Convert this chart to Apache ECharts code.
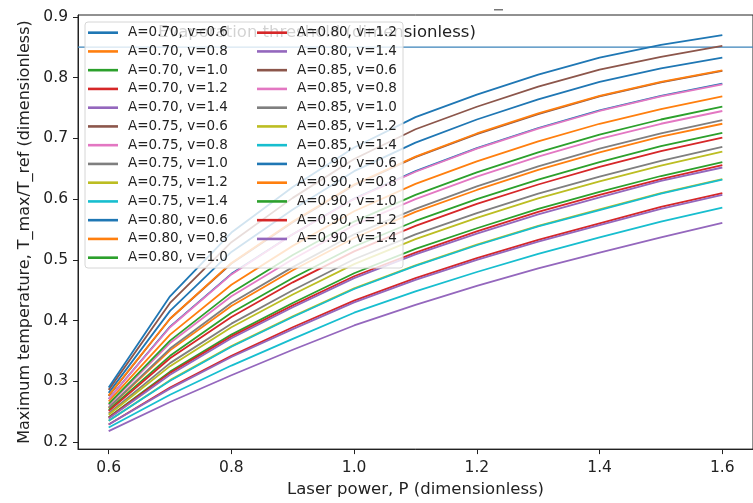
<!DOCTYPE html>
<html><head><meta charset="utf-8">
<script src="https://cdn.jsdelivr.net/npm/echarts@6/dist/echarts.min.js"></script>
<style>html,body{margin:0;padding:0;background:#fff}#c{width:753px;height:503px}</style>
</head><body><div id="c"></div>
<script>
// Laser power sample points (dimensionless)
const P = [0.6, 0.7, 0.8, 0.9, 1.0, 1.1, 1.2, 1.3, 1.4, 1.5, 1.6];
const absorptivities = ['0.70', '0.75', '0.80', '0.85', '0.90'];
const speeds = ['0.6', '0.8', '1.0', '1.2', '1.4'];
// T_max/T_ref per absorptivity, one row per scan speed v = 0.6 ... 1.4
const T_A070 = [
  [0.271, 0.390, 0.477, 0.542, 0.601, 0.646, 0.684, 0.717, 0.746, 0.770, 0.790],
  [0.256, 0.351, 0.424, 0.483, 0.536, 0.579, 0.615, 0.648, 0.677, 0.703, 0.724],
  [0.241, 0.316, 0.377, 0.429, 0.478, 0.518, 0.552, 0.584, 0.612, 0.638, 0.661],
  [0.229, 0.290, 0.342, 0.389, 0.433, 0.470, 0.503, 0.533, 0.560, 0.587, 0.610],
  [0.218, 0.266, 0.310, 0.352, 0.392, 0.426, 0.457, 0.486, 0.512, 0.537, 0.561]
];
const T_A075 = [
  [0.276, 0.403, 0.494, 0.562, 0.623, 0.669, 0.707, 0.740, 0.769, 0.792, 0.811],
  [0.261, 0.363, 0.440, 0.501, 0.557, 0.600, 0.637, 0.670, 0.699, 0.724, 0.745],
  [0.247, 0.330, 0.395, 0.450, 0.501, 0.542, 0.577, 0.609, 0.637, 0.663, 0.686],
  [0.235, 0.302, 0.358, 0.407, 0.453, 0.491, 0.525, 0.556, 0.583, 0.610, 0.633],
  [0.224, 0.278, 0.326, 0.370, 0.413, 0.448, 0.480, 0.510, 0.537, 0.563, 0.586]
];
const T_A080 = [
  [0.281, 0.416, 0.513, 0.583, 0.646, 0.693, 0.731, 0.764, 0.793, 0.815, 0.833],
  [0.267, 0.377, 0.459, 0.523, 0.580, 0.625, 0.662, 0.695, 0.724, 0.748, 0.769],
  [0.253, 0.342, 0.413, 0.470, 0.522, 0.564, 0.600, 0.632, 0.661, 0.687, 0.709],
  [0.240, 0.314, 0.374, 0.425, 0.473, 0.512, 0.547, 0.579, 0.607, 0.633, 0.656],
  [0.229, 0.288, 0.340, 0.386, 0.430, 0.467, 0.500, 0.530, 0.557, 0.584, 0.607]
];
const T_A085 = [
  [0.286, 0.429, 0.529, 0.602, 0.666, 0.715, 0.752, 0.785, 0.813, 0.834, 0.852],
  [0.271, 0.389, 0.476, 0.542, 0.600, 0.645, 0.683, 0.716, 0.745, 0.769, 0.789],
  [0.257, 0.354, 0.429, 0.488, 0.542, 0.584, 0.621, 0.654, 0.683, 0.708, 0.730],
  [0.245, 0.325, 0.389, 0.443, 0.493, 0.534, 0.569, 0.601, 0.629, 0.655, 0.678],
  [0.235, 0.301, 0.357, 0.406, 0.452, 0.490, 0.524, 0.555, 0.582, 0.609, 0.632]
];
const T_A090 = [
  [0.290, 0.440, 0.545, 0.620, 0.685, 0.735, 0.772, 0.805, 0.833, 0.854, 0.870],
  [0.277, 0.403, 0.495, 0.563, 0.624, 0.670, 0.708, 0.741, 0.770, 0.793, 0.812],
  [0.263, 0.367, 0.446, 0.508, 0.563, 0.607, 0.644, 0.677, 0.706, 0.731, 0.752],
  [0.251, 0.338, 0.406, 0.463, 0.514, 0.556, 0.592, 0.624, 0.653, 0.679, 0.701],
  [0.239, 0.311, 0.371, 0.422, 0.470, 0.509, 0.543, 0.575, 0.603, 0.630, 0.652]
];
const evaporationThreshold = 0.85;
const xTicks = [0.6, 0.8, 1.0, 1.2, 1.4, 1.6];
const yTicks = [0.2, 0.3, 0.4, 0.5, 0.6, 0.7, 0.8, 0.9];

const tab10 = ['#1f77b4','#ff7f0e','#2ca02c','#d62728','#9467bd','#8c564b','#e377c2','#7f7f7f','#bcbd22','#17becf'];
const tables = [T_A070, T_A075, T_A080, T_A085, T_A090];
const FONT = 'DejaVu Sans';

const series = [];
const names = [];
tables.forEach((tbl, ai) => {
  tbl.forEach((row, vi) => {
    const name = 'A=' + absorptivities[ai] + ', v=' + speeds[vi];
    const idx = names.length;
    names.push(name);
    series.push({
      name, type: 'line', data: row.map((t, i) => [P[i], t]),
      symbol: 'none', smooth: false,
      lineStyle: { width: 1.8, color: tab10[idx % 10], join: 'round' },
      itemStyle: { color: tab10[idx % 10] },
      z: 2, silent: true
    });
  });
});
series.push({
  name: 'threshold', type: 'line', data: [[0.55, evaporationThreshold], [1.65, evaporationThreshold]],
  symbol: 'none', lineStyle: { width: 1.2, color: '#3b83ba' }, z: 1, silent: true
});

const legendCommon = {
  orient: 'vertical', top: 23.3, padding: 0, itemGap: 0, itemWidth: 30, itemHeight: 2.6,
  icon: 'rect', z: 8,
  textStyle: { fontFamily: FONT, fontSize: 13.5, color: '#222', lineHeight: 18.75, padding: [0, 0, 0, 5] }
};

const chart = echarts.init(document.getElementById('c'), null, { renderer: 'canvas' });
chart.setOption({
  backgroundColor: '#fff',
  animation: false,
  grid: { left: 78, top: 15, width: 688, height: 435, show: true, borderColor: '#222', borderWidth: 1, backgroundColor: 'transparent' },
  xAxis: {
    type: 'value', min: 0.55, max: 1.65,
    name: 'Laser power, P (dimensionless)', nameLocation: 'middle', nameGap: 31,
    nameTextStyle: { fontFamily: FONT, fontSize: 16.5, color: '#222' },
    axisLine: { show: true, lineStyle: { color: '#222', width: 1 } },
    axisTick: { show: true, length: 5, lineStyle: { color: '#222' }, customValues: xTicks },
    axisLabel: { fontFamily: FONT, fontSize: 15.5, color: '#222', margin: 11, customValues: xTicks, formatter: v => v.toFixed(1) },
    splitLine: { show: false }
  },
  yAxis: {
    type: 'value', min: 0.1885, max: 0.903,
    name: 'Maximum temperature, T_max/T_ref (dimensionless)', nameLocation: 'middle', nameGap: 44,
    nameTextStyle: { fontFamily: FONT, fontSize: 16, color: '#222' },
    axisLine: { show: true, lineStyle: { color: '#222', width: 1 } },
    axisTick: { show: true, length: 5, lineStyle: { color: '#222' }, customValues: yTicks },
    axisLabel: { fontFamily: FONT, fontSize: 15.5, color: '#222', margin: 10, customValues: yTicks, formatter: v => v.toFixed(1) },
    splitLine: { show: false }
  },
  legend: [
    Object.assign({ left: 88, data: names.slice(0, 13) }, legendCommon),
    Object.assign({ left: 257, data: names.slice(13) }, legendCommon)
  ],
  graphic: [
    { type: 'text', x: 158, y: 33, z: 5, silent: true,
      style: { text: 'Evaporation threshold (dimensionless)', fontFamily: FONT, fontSize: 16.5, fill: '#222', verticalAlign: 'middle' } },
    { type: 'rect', z: 6, silent: true, shape: { x: 85, y: 22, width: 318, height: 246, r: 3 },
      style: { fill: 'rgba(255,255,255,0.8)', stroke: '#d6d6d6', lineWidth: 1 } },
    { type: 'rect', z: 6, silent: true, shape: { x: 494, y: 9, width: 9, height: 1.5 }, style: { fill: '#777' } }
  ],
  series
});
</script>
</body></html>
